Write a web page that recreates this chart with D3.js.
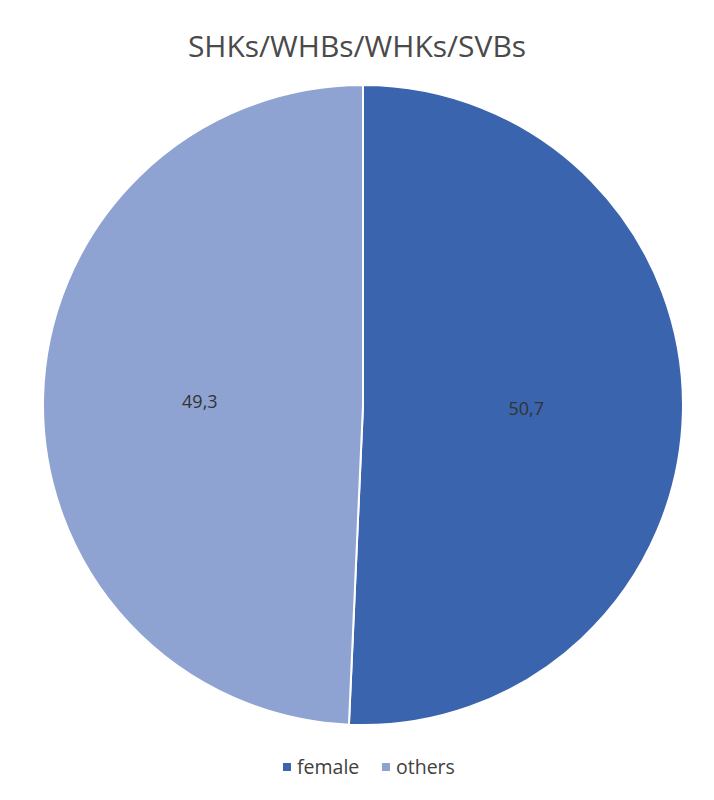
<!DOCTYPE html>
<html>
<head>
<meta charset="utf-8">
<script src="https://cdn.jsdelivr.net/npm/d3@7"></script>
<style>
  html, body { margin: 0; padding: 0; background: #fff; }
  svg { display: block; }
  text { font-family: "Open Sans", "Noto Sans", sans-serif; }
</style>
</head>
<body>
<svg id="chart" width="714" height="800"></svg>
<script>
const title = "SHKs/WHBs/WHKs/SVBs";
const categories = ["female", "others"];
const values = [50.7, 49.3];
const labels = ["50,7", "49,3"];
const colors = ["#3A64AD", "#8FA3D3"];

const svg = d3.select("#chart");
const cx = 363, cy = 405, R = 320;

svg.append("text")
  .attr("x", cx - 6).attr("y", 57)
  .attr("text-anchor", "middle")
  .attr("font-size", 30)
  .attr("fill", "#4a4a4a")
  .text(title);

const data = categories.map((c, i) => ({ cat: c, value: values[i], label: labels[i], color: colors[i] }));
const pie = d3.pie().value(d => d.value).sort(null);
const arcs = pie(data);
const arc = d3.arc().innerRadius(0).outerRadius(R);
const labelArc = d3.arc().innerRadius(R * 0.51).outerRadius(R * 0.51);

const g = svg.append("g").attr("transform", `translate(${cx},${cy})`);
g.selectAll("path").data(arcs).enter().append("path")
  .attr("d", arc)
  .attr("fill", d => d.data.color)
  .attr("stroke", "#fff")
  .attr("stroke-width", 2);

g.selectAll("text.lbl").data(arcs).enter().append("text")
  .attr("class", "lbl")
  .attr("transform", d => `translate(${labelArc.centroid(d)})`)
  .attr("text-anchor", "middle")
  .attr("dy", "0.35em")
  .attr("font-size", 18)
  .attr("fill", "#333")
  .text(d => d.data.label);

// legend
const legendX = [283, 382];
const lg = svg.append("g");
data.forEach((d, i) => {
  lg.append("rect")
    .attr("x", legendX[i]).attr("y", 763)
    .attr("width", 8).attr("height", 8)
    .attr("fill", d.color);
  lg.append("text")
    .attr("x", legendX[i] + 14).attr("y", 774)
    .attr("font-size", 19.5)
    .attr("fill", "#404040")
    .text(d.cat);
});
</script>
</body>
</html>
